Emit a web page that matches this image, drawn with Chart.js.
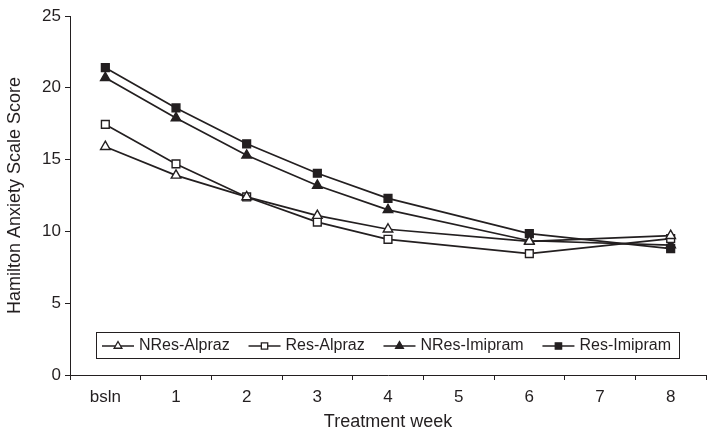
<!DOCTYPE html>
<html>
<head>
<meta charset="utf-8">
<script src="https://cdn.jsdelivr.net/npm/chart.js@4/dist/chart.umd.min.js"></script>
<style>
  body { margin: 0; background: #fff; }
  #wrap { width: 714px; height: 437px; }
</style>
</head>
<body>
<div id="wrap"><canvas id="myChart"></canvas></div>
<script>
var weeks = ["bsln", "1", "2", "3", "4", "5", "6", "7", "8"];
var nresAlpraz  = [15.9, 13.9, 12.4, 11.1, 10.15, null, 9.3, null, 9.7];
var resAlpraz   = [17.45, 14.7, 12.4, 10.65, 9.45, null, 8.45, null, 9.5];
var nresImipram = [20.7, 17.9, 15.3, 13.2, 11.5, null, 9.35, null, 9.05];
var resImipram  = [21.4, 18.6, 16.1, 14.05, 12.3, null, 9.85, null, 8.8];
var yTicks = [0, 5, 10, 15, 20, 25];

var ink = "#231f20";
var fontFam = "'Liberation Sans', Arial, sans-serif";

// legend boxed inside the plot, like the original figure
var boxLegend = {
    id: 'boxLegend',
    afterDatasetsDraw: function (chart) {
        var ctx = chart.ctx;
        var a = chart.chartArea;
        var left = a.left + 26, right = a.right - 27;
        var bottom = a.bottom - 17, top = bottom - 26;
        ctx.save();
        ctx.fillStyle = "#fff";
        ctx.fillRect(left, top, right - left, bottom - top);
        ctx.strokeStyle = ink;
        ctx.lineWidth = 1;
        ctx.strokeRect(left + 0.5, top + 0.5, right - left, bottom - top);
        ctx.font = "16px " + fontFam;
        var sets = chart.data.datasets;
        var lineW = 32, gap = 5;
        var widths = sets.map(function (d) { return lineW + gap + ctx.measureText(d.label).width; });
        var total = widths.reduce(function (s, w) { return s + w; }, 0);
        var space = (right - left - 14 - total) / (sets.length - 1);
        var x = left + 6, cy = (top + bottom) / 2 + 1;
        sets.forEach(function (d, i) {
            ctx.strokeStyle = ink;
            ctx.lineWidth = 1.5;
            ctx.beginPath();
            ctx.moveTo(x, cy);
            ctx.lineTo(x + lineW, cy);
            ctx.stroke();
            ctx.fillStyle = d.pointBackgroundColor;
            ctx.lineWidth = 1.3;
            Chart.helpers.drawPoint(ctx, {
                pointStyle: d.pointStyle, radius: 4.5, borderWidth: 1.3, rotation: 0
            }, x + lineW / 2, cy);
            ctx.fillStyle = ink;
            ctx.textBaseline = "middle";
            ctx.fillText(d.label, x + lineW + gap, cy);
            x += widths[i] + space;
        });
        ctx.restore();
    }
};

function series(label, data, style, filled) {
    return {
        label: label,
        data: data,
        spanGaps: true,
        borderColor: ink,
        borderWidth: 1.7,
        pointStyle: style,
        pointRadius: 5.5,
        pointHoverRadius: 5.5,
        pointBorderWidth: 1.4,
        pointBorderColor: ink,
        pointBackgroundColor: filled ? ink : "#fff",
        tension: 0,
        fill: false
    };
}

var myChart = new Chart(document.getElementById("myChart"), {
    type: 'line',
    data: {
        labels: weeks,
        datasets: [
            series("NRes-Alpraz", nresAlpraz, 'triangle', false),
            series("Res-Alpraz", resAlpraz, 'rect', false),
            series("NRes-Imipram", nresImipram, 'triangle', true),
            series("Res-Imipram", resImipram, 'rect', true)
        ]
    },
    options: {
        responsive: true,
        maintainAspectRatio: false,
        animation: false,
        layout: { padding: { top: 16, right: 8, left: 0, bottom: 0 } },
        plugins: {
            legend: { display: false },
            tooltip: { enabled: false }
        },
        scales: {
            x: {
                offset: true,
                grid: { offset: true, drawOnChartArea: false, tickLength: 5, color: ink, lineWidth: 1 },
                border: { color: ink, width: 1 },
                ticks: { color: ink, font: { size: 17, family: fontFam }, padding: 7 },
                title: { display: true, text: "Treatment week", color: ink, font: { size: 18, family: fontFam }, padding: { top: 2 } },
                afterFit: function (s) { s.height = 62; }
            },
            y: {
                min: 0,
                max: 25,
                afterBuildTicks: function (s) { s.ticks = yTicks.map(function (v) { return { value: v }; }); },
                grid: { drawOnChartArea: false, tickLength: 5, color: ink, lineWidth: 1 },
                border: { color: ink, width: 1 },
                ticks: { color: ink, font: { size: 17, family: fontFam }, padding: 4 },
                title: { display: true, text: "Hamilton Anxiety Scale Score", color: ink, font: { size: 18, family: fontFam }, padding: { top: 4 } },
                afterFit: function (s) { s.width = 70; }
            }
        }
    },
    plugins: [boxLegend]
});
</script>
</body>
</html>
